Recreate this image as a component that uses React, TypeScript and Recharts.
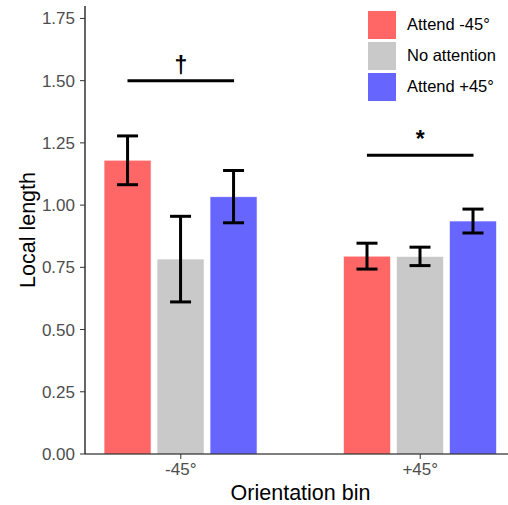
import { BarChart, Bar, XAxis, YAxis, ErrorBar, ReferenceLine, Legend, Label } from 'recharts'

const BIN_LABELS = ['-45°', '+45°']
const BIN_POS = [1, 2]

const ATTEND_NEG = [1.18, 0.795]
const ATTEND_NEG_SE = [0.098, 0.052]
const NO_ATTENTION = [0.783, 0.794]
const NO_ATTENTION_SE = [0.172, 0.037]
const ATTEND_POS = [1.034, 0.936]
const ATTEND_POS_SE = [0.105, 0.048]

const SIG_LABELS = ['†', '*']
const SIG_Y = [1.5, 1.2]
const DODGE = 0.2225 // distance between neighbouring bars, in x units

const Y_TICKS = [0, 0.25, 0.5, 0.75, 1, 1.25, 1.5, 1.75]

const SERIES = [
  { key: 'neg', se: 'negSE', name: 'Attend -45°', color: '#FF6666' },
  { key: 'none', se: 'noneSE', name: 'No attention', color: '#C9C9C9' },
  { key: 'pos', se: 'posSE', name: 'Attend +45°', color: '#6666FF' },
]

const data = BIN_POS.map((x, i) => ({
  x,
  neg: ATTEND_NEG[i],
  negSE: ATTEND_NEG_SE[i],
  none: NO_ATTENTION[i],
  noneSE: NO_ATTENTION_SE[i],
  pos: ATTEND_POS[i],
  posSE: ATTEND_POS_SE[i],
}))

const FONT = '"Liberation Sans", Arial, sans-serif'

function LegendBox() {
  return (
    <div style={{ fontFamily: FONT, fontSize: 16.5, color: '#000' }}>
      {SERIES.map(s => (
        <div key={s.key} style={{ display: 'flex', alignItems: 'center', height: 31 }}>
          <div style={{ width: 30, height: 30, background: s.color, border: '1px solid #fff', boxSizing: 'border-box' }} />
          <span style={{ marginLeft: 10 }}>{s.name}</span>
        </div>
      ))}
    </div>
  )
}

export default function App() {
  return (
    <div style={{ position: 'absolute', left: 0, top: 0, width: 508, height: 505, overflow: 'hidden', background: '#fff' }}>
      <BarChart
        width={516}
        height={505}
        data={data}
        margin={{ top: 6, right: 0, bottom: 0, left: 0 }}
        barSize={47}
        barGap={6}
        style={{ fontFamily: FONT }}
      >
        <XAxis
          type="number"
          dataKey="x"
          domain={[0.6, 2.4]}
          allowDataOverflow
          ticks={BIN_POS}
          tickFormatter={v => BIN_LABELS[BIN_POS.indexOf(v)]}
          height={51}
          axisLine={{ stroke: '#000', strokeWidth: 1.2 }}
          tickLine={{ stroke: '#333' }}
          tickSize={5}
          tickMargin={4}
          tick={{ fill: '#4D4D4D', fontSize: 17 }}
        >
          <Label value="Orientation bin" position="insideBottom" offset={5} fill="#000" fontSize={21.5} />
        </XAxis>
        <YAxis
          width={85}
          domain={[0, 1.8]}
          ticks={Y_TICKS}
          tickFormatter={v => v.toFixed(2)}
          axisLine={{ stroke: '#000', strokeWidth: 1.2 }}
          tickLine={{ stroke: '#333' }}
          tickSize={5}
          tickMargin={5}
          tick={{ fill: '#4D4D4D', fontSize: 17 }}
        >
          <Label value="Local length" angle={-90} position="center" dx={-15} fill="#000" fontSize={21.5} />
        </YAxis>
        <Legend
          layout="vertical"
          verticalAlign="middle"
          align="center"
          wrapperStyle={{ top: 9, left: 367, width: 141, height: 95 }}
          content={() => <LegendBox />}
        />
        {SERIES.map(s => (
          <Bar
            key={s.key}
            dataKey={s.key}
            name={s.name}
            fill={s.color}
            stroke="#fff"
            strokeWidth={0.6}
            isAnimationActive={false}
          >
            <ErrorBar dataKey={s.se} width={10.5} stroke="#000" strokeWidth={3} direction="y" />
          </Bar>
        ))}
        {BIN_POS.map((x, i) => (
          <ReferenceLine
            key={`sig-${i}`}
            segment={[{ x: x - DODGE, y: SIG_Y[i] }, { x: x + DODGE, y: SIG_Y[i] }]}
            stroke="#000"
            strokeWidth={3}
            label={{ value: SIG_LABELS[i], position: 'top', offset: 8, fill: '#000', fontSize: 23, fontWeight: 'bold' }}
          />
        ))}
      </BarChart>
    </div>
  )
}
